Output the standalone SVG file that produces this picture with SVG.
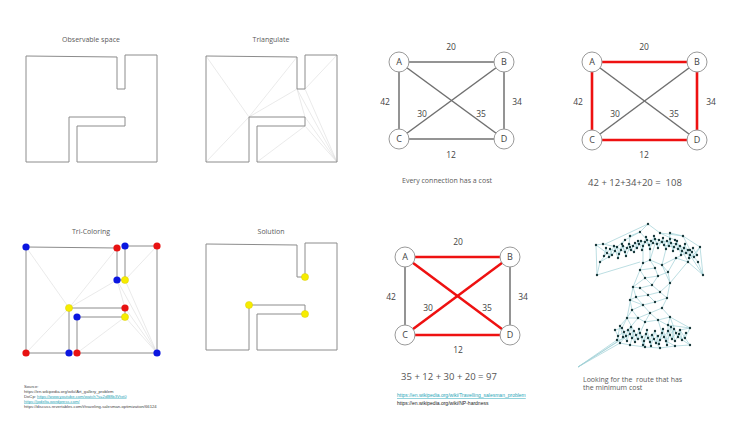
<svg xmlns="http://www.w3.org/2000/svg" width="730" height="428" viewBox="0 0 730 428">
<style>
.t{font-family:"Open Sans","Liberation Sans",sans-serif;fill:#5a5a5a;font-size:7px;text-anchor:middle}
.n{font-family:"Open Sans","Liberation Sans",sans-serif;fill:#444;font-size:8.5px;text-anchor:middle}
.eq{font-family:"Open Sans","Liberation Sans",sans-serif;fill:#555;font-size:9.5px;text-anchor:middle}
.src{font-family:"Liberation Sans",sans-serif;fill:#444;font-size:4.2px}
.lnk{fill:#2aa6b8;text-decoration:underline}
.poly{fill:none;stroke:#8c8c8c;stroke-width:1}
.tri{fill:none;stroke:#dcdcdc;stroke-width:0.6}
.node circle{fill:#fff;stroke:#9a9a9a;stroke-width:1}
.node text{font-family:"Open Sans","Liberation Sans",sans-serif;fill:#444;font-size:9px;text-anchor:middle}
.g{stroke:#707070;stroke-width:1.5}
.r{stroke:#ee1111;stroke-width:2.6}
.blue{fill:#0b16e0}
.red{fill:#e81212}
.yel{fill:#f6ec00;stroke:#d4c800;stroke-width:0.4}
.net{fill:none;stroke:#9fd0d5;stroke-width:0.7}
.dots{fill:none;stroke:#1c3b3d;stroke-width:2.4;stroke-linecap:round}
</style>
<defs>
<path id="room" d="M26,56 L117,57 L117,89 L125,89 L125,55 L157,55 L157,162 L77,162 L77,126 L125,126 L125,117 L69,117 L69,162 L26,162 Z"/>
<path id="diag" d="M26,56 L69,117 M117,57 L69,117 M117,89 L69,117 M69,117 L26,162 M125,89 L157,55 M117,89 L125,117 M117,89 L157,162 M125,89 L157,162 M157,162 L125,117 M157,162 L125,126 M77,162 L125,126"/>
</defs>

<g id="observable">
<text class="t" x="91" y="42">Observable space</text>
<use href="#room" class="poly"/>
</g>

<g id="triangulate">
<text class="t" x="271" y="42">Triangulate</text>
<use href="#diag" class="tri" transform="translate(180,0)"/>
<use href="#room" class="poly" transform="translate(180,0)"/>
</g>

<g id="tricoloring">
<text class="t" x="91" y="234">Tri-Coloring</text>
<g transform="translate(0,191)">
<use href="#diag" class="tri"/>
<use href="#room" class="poly"/>
<circle class="blue" cx="26" cy="56" r="3.6"/>
<circle class="red" cx="117" cy="57" r="3.6"/>
<circle class="blue" cx="125" cy="55" r="3.6"/>
<circle class="red" cx="157" cy="55" r="3.6"/>
<circle class="blue" cx="117" cy="89" r="3.6"/>
<circle class="yel" cx="125" cy="89" r="3.6"/>
<circle class="yel" cx="69" cy="117" r="3.6"/>
<circle class="red" cx="125" cy="117" r="3.6"/>
<circle class="blue" cx="77" cy="126" r="3.6"/>
<circle class="yel" cx="125" cy="126" r="3.6"/>
<circle class="red" cx="26" cy="162" r="3.6"/>
<circle class="blue" cx="69" cy="162" r="3.6"/>
<circle class="red" cx="77" cy="162" r="3.6"/>
<circle class="blue" cx="157" cy="162" r="3.6"/>
</g>
</g>

<g id="solution">
<text class="t" x="271" y="234">Solution</text>
<g transform="translate(180,188)">
<use href="#room" class="poly"/>
<circle class="yel" cx="125" cy="89" r="3.6"/>
<circle class="yel" cx="69" cy="117" r="3.6"/>
<circle class="yel" cx="125" cy="126" r="3.6"/>
</g>
</g>

<g id="connectors">
<g id="graph1-edges">
<line class="g" x1="399" y1="62" x2="504" y2="62"/>
<line class="g" x1="399" y1="62" x2="399" y2="139"/>
<line class="g" x1="504" y1="62" x2="504" y2="139"/>
<line class="g" x1="399" y1="139" x2="504" y2="139"/>
<line class="g" x1="399" y1="62" x2="504" y2="139"/>
<line class="g" x1="504" y1="62" x2="399" y2="139"/>
</g>
<g id="graph2-edges">
<line class="g" x1="592" y1="62" x2="697" y2="140"/>
<line class="g" x1="697" y1="62" x2="592" y2="140"/>
<line class="r" x1="592" y1="62" x2="697" y2="62"/>
<line class="r" x1="592" y1="62" x2="592" y2="140"/>
<line class="r" x1="697" y1="62" x2="697" y2="140"/>
<line class="r" x1="592" y1="140" x2="697" y2="140"/>
</g>
<g id="graph3-edges">
<line class="g" x1="405" y1="257" x2="405" y2="335"/>
<line class="g" x1="510" y1="257" x2="510" y2="335"/>
<line class="r" x1="405" y1="257" x2="510" y2="257"/>
<line class="r" x1="405" y1="257" x2="510" y2="335"/>
<line class="r" x1="510" y1="257" x2="405" y2="335"/>
<line class="r" x1="405" y1="335" x2="510" y2="335"/>
</g>
</g>

<g id="graph1">
<g id="g1A" class="node"><circle cx="399" cy="62" r="10"/><text x="399" y="65.2">A</text></g>
<g id="g1B" class="node"><circle cx="504" cy="62" r="10"/><text x="504" y="65.2">B</text></g>
<g id="g1C" class="node"><circle cx="399" cy="139" r="10"/><text x="399" y="142.2">C</text></g>
<g id="g1D" class="node"><circle cx="504" cy="139" r="10"/><text x="504" y="142.2">D</text></g>
<text class="n" x="451" y="50">20</text>
<text class="n" x="385" y="105">42</text>
<text class="n" x="517" y="105">34</text>
<text class="n" x="422" y="117">30</text>
<text class="n" x="481" y="117">35</text>
<text class="n" x="451" y="158">12</text>
<text class="t" x="447" y="182.5">Every connection has a cost</text>
</g>

<g id="graph2">
<g id="g2A" class="node"><circle cx="592" cy="62" r="10"/><text x="592" y="65.2">A</text></g>
<g id="g2B" class="node"><circle cx="697" cy="62" r="10"/><text x="697" y="65.2">B</text></g>
<g id="g2C" class="node"><circle cx="592" cy="140" r="10"/><text x="592" y="143.2">C</text></g>
<g id="g2D" class="node"><circle cx="697" cy="140" r="10"/><text x="697" y="143.2">D</text></g>
<text class="n" x="644" y="50">20</text>
<text class="n" x="578" y="105">42</text>
<text class="n" x="711" y="105">34</text>
<text class="n" x="615" y="117">30</text>
<text class="n" x="674" y="117">35</text>
<text class="n" x="644" y="158">12</text>
<text class="eq" x="635" y="185.5" xml:space="preserve">42 + 12+34+20 =  108</text>
</g>

<g id="graph3">
<g id="g3A" class="node"><circle cx="405" cy="257" r="10"/><text x="405" y="260.2">A</text></g>
<g id="g3B" class="node"><circle cx="510" cy="257" r="10"/><text x="510" y="260.2">B</text></g>
<g id="g3C" class="node"><circle cx="405" cy="335" r="10"/><text x="405" y="338.2">C</text></g>
<g id="g3D" class="node"><circle cx="510" cy="335" r="10"/><text x="510" y="338.2">D</text></g>
<text class="n" x="458" y="245">20</text>
<text class="n" x="391" y="300">42</text>
<text class="n" x="523" y="300">34</text>
<text class="n" x="428" y="311">30</text>
<text class="n" x="487" y="311">35</text>
<text class="n" x="458" y="353">12</text>
<text class="eq" x="449" y="379.5">35 + 12 + 30 + 20 = 97</text>
<text class="src lnk" x="397" y="397" style="font-size:5px">https://en.wikipedia.org/wiki/Travelling_salesman_problem</text>
<text class="src" x="397" y="404.5" style="font-size:5px;fill:#222">https://en.wikipedia.org/wiki/NP-hardness</text>
</g>

<g id="network">
<path class="net" d="M607,253 L610,249 L612,255 L615,251 L617,247 L619,254 L621,250 L623,246 L625,252 L627,248 L629,244 L631,250 L633,246 L635,243 L637,248 L639,244 L641,241 L643,246 L645,242 L647,240 L649,245 L651,241 L653,243 L655,239 L657,244 L659,240 L662,242 L664,245 L667,241 L669,246 L671,243 L674,247 L676,244 L678,249 L680,246 L682,251 L684,248 L686,253 L688,250 L690,255 L692,252 L694,257
M607,253 L612,255 L617,247 L621,250 L625,252 L629,244 L633,246 L637,248 L641,241 L645,242 L649,245 L653,243 L657,244 L662,242 L667,241 L671,243 L676,244 L680,246 L684,248 L688,250 L692,252
M610,249 L615,251 L619,254 L623,246 L627,248 L631,250 L635,243 L639,244 L643,246 L647,240 L651,241 L655,239 L659,240 L664,245 L669,246 L674,247 L678,249 L682,251 L686,253 L690,255 L694,257
M604,256 L606,248 L609,257 L614,246 L618,258 L622,244 L626,256 L630,247 L634,252 L638,241 L642,250 L646,237 L650,249 L654,236 L658,248 L663,238 L666,249 L670,239 L673,251 L677,241 L681,255 L685,244 L689,258 L693,248 L697,255
M604,256 L607,253 M609,257 L612,255 M618,258 L619,254 M626,256 L625,252 M634,252 L631,250 M642,250 L643,246 M650,249 L649,245 M658,248 L657,244 M666,249 L664,245 M673,251 L674,247 M681,255 L682,251 M689,258 L690,255 M697,255 L694,257 M614,246 L617,247 M622,244 L623,246 M638,241 L641,241 M646,237 L647,240 M654,236 L655,239 M663,238 L662,242 M670,239 L671,243 M677,241 L676,244 M685,244 L684,248
M648,224 L603,245 M648,224 L660,233 M648,224 L640,232 L625,240 L617,247 M660,233 L675,240 M660,233 L683,236 L700,247 L703,275 M683,236 L690,250 M700,247 L694,257 M596,245 L607,253 M596,245 L603,244 L617,247 M596,245 L597,275 L600,262 L607,253 M600,262 L612,255 M703,275 L690,255 M703,275 L688,262 L676,258 L686,253 M698,262 L694,257 M698,262 L703,275 M688,262 L680,246 M640,232 L647,240 M630,236 L629,244 M630,236 L640,232 M670,233 L669,246 M670,233 L683,236 M625,240 L622,244 M675,240 L677,241
M643,246 L643,263 M650,260 L655,244 M643,263 L650,260 L662,265 L670,283 M662,265 L676,258 M643,263 L640,270 L645,278 M650,260 L655,268 L658,276 L668,272 L662,265 M640,270 L655,268 M645,278 L658,276 M668,272 L670,283 L660,292 L652,285 L645,278 M652,285 L640,288 L633,287 L645,278 M658,276 L652,285 M633,287 L636,297 L630,300 L632,310 L627,318 M640,288 L648,295 L660,292 L667,298 L670,283 M648,295 L636,297 M648,295 L655,302 L667,298 L662,308 L670,317 L668,325 M655,302 L643,305 L636,297 M643,305 L632,310 L638,318 L650,313 L662,308 M650,313 L643,305 M638,318 L627,318 M650,313 L658,320 L670,317 M658,320 L645,322 L638,318 M645,322 L650,313 M630,300 L643,305 M640,270 L633,287 M700,247 L670,283 M597,275 L640,262 M676,258 L668,272 M633,287 L627,318 M650,260 L650,249 M662,265 L666,249
M622,328 L624,332 L626,336 L628,330 L630,334 L632,338 L634,331 L636,335 L638,339 L640,333 L642,337 L644,341 L646,334 L648,338 L650,342 L652,335 L654,339 L656,343 L658,336 L660,340 L662,333 L664,337 L666,341 L668,331 L670,335 L672,339 L674,329 L676,333 L678,337 L680,330
M622,328 L626,336 L630,334 L634,331 L638,339 L642,337 L646,334 L650,342 L654,339 L658,336 L662,333 L666,341 L670,335 L674,329 L678,337
M624,332 L628,330 L632,338 L636,335 L640,333 L644,341 L648,338 L652,335 L656,343 L660,340 L664,337 L668,331 L672,339 L676,333 L680,330
M617,340 L620,326 L623,337 L627,341 L631,327 L635,342 L639,329 L643,345 L647,330 L651,346 L655,331 L659,344 L663,329 L667,345 L671,327 L675,341 L679,334 L682,340 L686,333
M620,326 L622,328 M623,337 L624,332 M627,341 L626,336 M631,327 L628,330 M635,342 L632,338 M639,329 L640,333 M643,345 L644,341 M647,330 L646,334 M651,346 L650,342 M655,331 L652,335 M659,344 L656,343 M663,329 L662,333 M667,345 L666,341 M671,327 L668,331 M675,341 L672,339 M679,334 L678,337 M682,340 L680,330
M615,330 L622,328 M615,330 L618,336 L624,332 M618,336 L620,343 L626,336 M620,343 L630,345 L632,338 M630,345 L645,347 L644,341 M645,347 L660,348 L656,343 M660,348 L675,346 L666,341 M675,346 L690,345 L678,337 M690,345 L685,338 L680,330 M685,338 L690,328 L680,330 M690,328 L668,325 L674,329 M627,318 L622,328 M638,318 L628,330 M645,322 L640,333 M658,320 L662,333 M668,325 L668,331 M627,318 L634,331 M670,317 L676,333 M690,328 L670,317 M627,318 L620,326 M658,320 L671,327
M578,367 L626,336 M578,367 L620,343 M578,367 L630,334 M578,367 L617,340"/>
<path class="dots" d="M607,253h0M610,249h0M612,255h0M615,251h0M617,247h0M619,254h0M621,250h0M623,246h0M625,252h0M627,248h0M629,244h0M631,250h0M633,246h0M635,243h0M637,248h0M639,244h0M641,241h0M643,246h0M645,242h0M647,240h0M649,245h0M651,241h0M653,243h0M655,239h0M657,244h0M659,240h0M662,242h0M664,245h0M667,241h0M669,246h0M671,243h0M674,247h0M676,244h0M678,249h0M680,246h0M682,251h0M684,248h0M686,253h0M688,250h0M690,255h0M692,252h0M694,257h0
M604,256h0M606,248h0M609,257h0M614,246h0M618,258h0M622,244h0M626,256h0M630,247h0M634,252h0M638,241h0M642,250h0M646,237h0M650,249h0M654,236h0M658,248h0M663,238h0M666,249h0M670,239h0M673,251h0M677,241h0M681,255h0M685,244h0M689,258h0M693,248h0M697,255h0
M648,224h0M640,232h0M660,233h0M630,236h0M670,233h0M683,236h0M700,247h0M596,245h0M603,244h0M600,262h0M597,275h0M703,275h0M698,262h0M688,262h0M676,258h0M625,240h0M675,240h0M690,250h0
M643,263h0M650,260h0M640,270h0M655,268h0M662,265h0M645,278h0M658,276h0M668,272h0M670,283h0M652,285h0M640,288h0M633,287h0M660,292h0M648,295h0M636,297h0M630,300h0M667,298h0M655,302h0M643,305h0M632,310h0M662,308h0M670,317h0M650,313h0M638,318h0M627,318h0M658,320h0M645,322h0M668,325h0
M622,328h0M624,332h0M626,336h0M628,330h0M630,334h0M632,338h0M634,331h0M636,335h0M638,339h0M640,333h0M642,337h0M644,341h0M646,334h0M648,338h0M650,342h0M652,335h0M654,339h0M656,343h0M658,336h0M660,340h0M662,333h0M664,337h0M666,341h0M668,331h0M670,335h0M672,339h0M674,329h0M676,333h0M678,337h0M680,330h0
M617,340h0M620,326h0M623,337h0M627,341h0M631,327h0M635,342h0M639,329h0M643,345h0M647,330h0M651,346h0M655,331h0M659,344h0M663,329h0M667,345h0M671,327h0M675,341h0M679,334h0M682,340h0M686,333h0
M615,330h0M618,336h0M620,343h0M630,345h0M645,347h0M660,348h0M675,346h0M690,345h0M685,338h0M690,328h0"/>
<text class="t" x="583" y="381.5" style="text-anchor:start" xml:space="preserve">Looking for the  route that has</text>
<text class="t" x="583" y="389.5" style="text-anchor:start">the minimum cost</text>
</g>

<g id="sources">
<text class="src" x="24" y="387.5">Source:</text>
<text class="src" x="24" y="392.5">https://en.wikipedia.org/wiki/Art_gallery_problem</text>
<text class="src" x="24" y="397.5">DoCp: <tspan class="lnk">https://www.youtube.com/watch?v=2dB8b3Vtxt0</tspan></text>
<text class="src lnk" x="24" y="402.5">https://jodelta.wordpress.com/</text>
<text class="src" x="24" y="407.5">https://discuss.revertables.com/t/traveling-salesman-optimization/66124</text>
</g>
</svg>
